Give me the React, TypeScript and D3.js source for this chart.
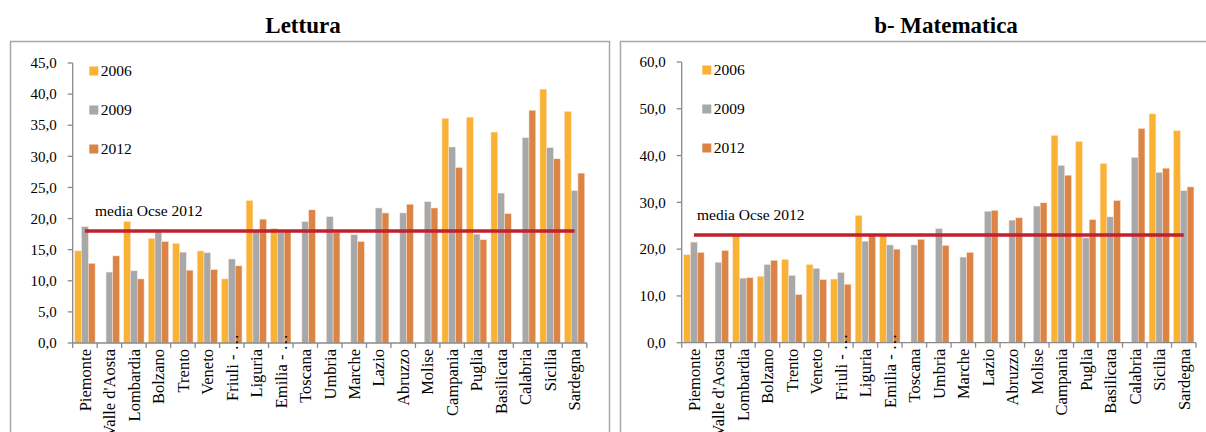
import React from "react";
import * as d3 from "d3";

const regions = ["Piemonte", "Valle d'Aosta", "Lombardia", "Bolzano", "Trento", "Veneto", "Friuli - …", "Liguria", "Emilia - …", "Toscana", "Umbria", "Marche", "Lazio", "Abruzzo", "Molise", "Campania", "Puglia", "Basilicata", "Calabria", "Sicilia", "Sardegna"];
const seriesNames = ["2006", "2009", "2012"];
const seriesColors = ["#F9B233", "#A7A8AA", "#DB8445"];

const lettura2006 = [14.8, null, 19.5, 16.8, 16.0, 14.8, 10.3, 22.9, 18.4, null, null, null, null, null, null, 36.1, 36.3, 33.9, null, 40.8, 37.2];
const lettura2009 = [18.7, 11.4, 11.6, 18.2, 14.6, 14.5, 13.5, 17.9, 17.8, 19.5, 20.3, 17.4, 21.7, 20.9, 22.7, 31.5, 17.5, 24.1, 33.0, 31.4, 24.5];
const lettura2012 = [12.8, 14.0, 10.3, 16.3, 11.7, 11.8, 12.4, 19.9, 17.9, 21.4, 17.8, 16.3, 20.9, 22.3, 21.7, 28.2, 16.6, 20.8, 37.4, 29.6, 27.3];

const mate2006 = [18.8, null, 22.9, 14.2, 17.8, 16.7, 13.6, 27.2, 22.9, null, null, null, null, null, null, 44.3, 43.0, 38.3, null, 48.9, 45.3];
const mate2009 = [21.5, 17.2, 13.8, 16.7, 14.4, 15.9, 15.0, 21.7, 20.9, 20.9, 24.4, 18.3, 28.1, 26.2, 29.2, 37.9, 22.4, 26.9, 39.6, 36.4, 32.5];
const mate2012 = [19.3, 19.7, 13.9, 17.6, 10.3, 13.5, 12.5, 23.0, 20.0, 22.1, 20.8, 19.3, 28.3, 26.7, 29.9, 35.8, 26.3, 30.4, 45.8, 37.3, 33.3];

const letturaTicks = [0, 5, 10, 15, 20, 25, 30, 35, 40, 45];
const mateTicks = [0, 10, 20, 30, 40, 50, 60];
const letturaOcse = 18.0;
const mateOcse = 23.0;

const FONT = "'Liberation Serif', 'Times New Roman', serif";
const fmt = (v: number) => v.toFixed(1).replace(".", ",");

type PanelProps = {
  title: string;
  series: (number | null)[][];
  ticks: number[];
  ocse: number;
  px: number;
  x0: number;
  x1: number;
  yZero: number;
  yTop: number;
  legendX: number;
  legendY: number[];
  ocseLabel: [number, number];
  titleX: number;
};

function Panel(p: PanelProps) {
  const yMax = p.ticks[p.ticks.length - 1];
  const x = d3.scaleBand<string>().domain(regions).range([p.x0, p.x1]).paddingInner(0.17).paddingOuter(0.085);
  const xs = d3.scaleBand<string>().domain(seriesNames).range([0, x.bandwidth()]).padding(0);
  const y = d3.scaleLinear().domain([0, yMax]).range([p.yZero, p.yTop]);
  const step = x.step();
  const boundaries = d3.range(regions.length + 1).map((k) => p.x0 + k * step);
  const first = (x(regions[0]) as number) + x.bandwidth() / 2;
  const last = (x(regions[regions.length - 1]) as number) + x.bandwidth() / 2;
  const axisColor = "#8a8a8a";
  return (
    <g>
      <text x={p.titleX} y={33} textAnchor="middle" fontFamily={FONT} fontWeight="bold" fontSize={23} fill="#000">{p.title}</text>
      <rect x={p.px} y={41.5} width={p.px > 600 ? 700 : 599} height={450} fill="none" stroke="#a8a8a8" strokeWidth={1.5} />
      {regions.map((r, i) => (
        <g key={r}>
          {p.series.map((s, j) => {
            const v = s[i];
            if (v == null) return null;
            const bx = (x(r) as number) + (xs(seriesNames[j]) as number);
            return (
              <rect key={j} x={bx} y={y(v)} width={xs.bandwidth()} height={y(0) - y(v)} fill={seriesColors[j]} stroke="#fbe3cf" strokeWidth={0.5} />
            );
          })}
        </g>
      ))}
      <line x1={p.x0} x2={p.x0} y1={y(0)} y2={y(yMax)} stroke={axisColor} strokeWidth={1.3} />
      {p.ticks.map((t) => (
        <g key={t}>
          <line x1={p.x0 - 5} x2={p.x0} y1={y(t)} y2={y(t)} stroke={axisColor} strokeWidth={1.3} />
          <text x={p.x0 - 16} y={y(t)} dy="0.35em" textAnchor="end" fontFamily={FONT} fontSize={15} fill="#000">{fmt(t)}</text>
        </g>
      ))}
      <line x1={p.x0} x2={p.x1} y1={y(0)} y2={y(0)} stroke={axisColor} strokeWidth={1.3} />
      {boundaries.map((bx, k) => (
        <line key={k} x1={bx} x2={bx} y1={y(0)} y2={y(0) + 5} stroke={axisColor} strokeWidth={1.3} />
      ))}
      {regions.map((r) => {
        const cx = (x(r) as number) + x.bandwidth() / 2;
        const trunc = r.endsWith("…");
        const ty = trunc ? y(0) - 9 : y(0) + 6;
        return (
          <text key={r} transform={`translate(${cx},${ty}) rotate(-90)`} dy="0.35em" textAnchor="end" fontFamily={FONT} fontSize={16.5} fill="#000">{r}</text>
        );
      })}
      <line x1={first} x2={last} y1={y(p.ocse)} y2={y(p.ocse)} stroke="#C0202F" strokeWidth={3.5} />
      <text x={p.ocseLabel[0]} y={p.ocseLabel[1]} fontFamily={FONT} fontSize={15.5} fill="#000">media Ocse 2012</text>
      {seriesNames.map((n, j) => (
        <g key={n}>
          <rect x={p.legendX} y={p.legendY[j] - 4.5} width={9} height={9} fill={seriesColors[j]} />
          <text x={p.legendX + 11.5} y={p.legendY[j]} dy="0.35em" fontFamily={FONT} fontSize={15.5} fill="#000">{n}</text>
        </g>
      ))}
    </g>
  );
}

export default function App() {
  return (
    <svg width={1206} height={432} style={{ position: "absolute", left: 0, top: 0, background: "#fff" }}>
      <rect x={0} y={0} width={1206} height={432} fill="#fff" />
      <Panel
        title="Lettura"
        series={[lettura2006, lettura2009, lettura2012]}
        ticks={letturaTicks}
        ocse={letturaOcse}
        px={10.5}
        x0={72.7}
        x1={586.8}
        yZero={343}
        yTop={63}
        legendX={89.3}
        legendY={[71, 110, 149]}
        ocseLabel={[95, 216]}
        titleX={303}
      />
      <Panel
        title="b- Matematica"
        series={[mate2006, mate2009, mate2012]}
        ticks={mateTicks}
        ocse={mateOcse}
        px={620.5}
        x0={681.7}
        x1={1196}
        yZero={342.7}
        yTop={62}
        legendX={702.3}
        legendY={[70, 109, 148]}
        ocseLabel={[697, 220]}
        titleX={946}
      />
    </svg>
  );
}
